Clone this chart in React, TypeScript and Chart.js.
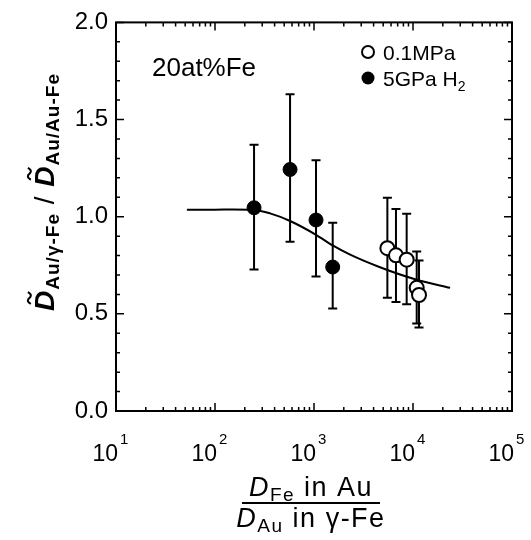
import React, { useEffect, useRef } from "react";
import { Chart, registerables } from "chart.js";
Chart.register(...registerables);

// ---- data ----
const curveX = [52, 100, 150, 248, 360, 573, 1048, 1545, 2290, 4640, 10700, 23700];
const curveY = [1.036, 1.036, 1.037, 1.035, 1.017, 0.978, 0.907, 0.852, 0.806, 0.74, 0.677, 0.634];

const h2X = [248, 573, 1048, 1545];
const h2Y = [1.046, 1.243, 0.983, 0.741];
const h2Hi = [1.37, 1.63, 1.29, 0.969];
const h2Lo = [0.728, 0.871, 0.692, 0.527];

const mpaX = [5510, 6730, 8630, 10900, 11500];
const mpaY = [0.838, 0.801, 0.779, 0.634, 0.597];
const mpaHi = [1.097, 1.039, 1.015, 0.821, 0.774];
const mpaLo = [0.583, 0.561, 0.549, 0.45, 0.43];

const xDecades = [10, 100, 1000, 10000, 100000];
const xExponents = ["1", "2", "3", "4", "5"];
const yMajorTicks = [0, 0.5, 1, 1.5, 2];
const legendLabels = ["0.1MPa", "5GPa H"];
const annotationText = "20at%Fe";

const FONT = '"Liberation Sans", Arial, Helvetica, sans-serif';

type Seg = { t: string; f: string; dy?: number; tilde?: number };

function segWidth(ctx: CanvasRenderingContext2D, segs: Seg[]) {
  let w = 0;
  for (const s of segs) {
    ctx.font = s.f;
    w += ctx.measureText(s.t).width;
  }
  return w;
}

function drawSegs(ctx: CanvasRenderingContext2D, segs: Seg[], x: number, y: number) {
  let cx = x;
  for (const s of segs) {
    ctx.font = s.f;
    const w = ctx.measureText(s.t).width;
    ctx.fillText(s.t, cx, y + (s.dy || 0));
    if (s.tilde) {
      const size = s.tilde;
      const tw = size * 0.42;
      const tx = cx + w * 0.5 - tw / 2 + size * 0.08;
      const ty = y - size * 0.72 - size * 0.16;
      ctx.save();
      ctx.lineWidth = 2;
      ctx.beginPath();
      ctx.moveTo(tx, ty + 1.5);
      ctx.bezierCurveTo(tx + tw * 0.2, ty - 3, tx + tw * 0.4, ty - 1.5, tx + tw * 0.5, ty);
      ctx.bezierCurveTo(tx + tw * 0.6, ty + 1.5, tx + tw * 0.8, ty + 3, tx + tw, ty - 1.5);
      ctx.stroke();
      ctx.restore();
    }
    cx += w;
  }
}

const customPlugin = {
  id: "customDecor",
  beforeDatasetsDraw(chart: any) {
    const { ctx, scales } = chart;
    const x = scales.x;
    const y = scales.y;
    ctx.save();
    ctx.strokeStyle = "#000";
    ctx.lineWidth = 2;
    const bars = (xs: number[], lo: number[], hi: number[]) => {
      xs.forEach((v, i) => {
        const px = x.getPixelForValue(v);
        const a = y.getPixelForValue(lo[i]);
        const b = y.getPixelForValue(hi[i]);
        ctx.beginPath();
        ctx.moveTo(px, a);
        ctx.lineTo(px, b);
        ctx.moveTo(px - 4.5, a);
        ctx.lineTo(px + 4.5, a);
        ctx.moveTo(px - 4.5, b);
        ctx.lineTo(px + 4.5, b);
        ctx.stroke();
      });
    };
    bars(h2X, h2Lo, h2Hi);
    bars(mpaX, mpaLo, mpaHi);
    ctx.restore();
  },
  afterDraw(chart: any) {
    const { ctx, chartArea, scales } = chart;
    const x = scales.x;
    const y = scales.y;
    const { left, right, top, bottom } = chartArea;
    ctx.save();
    ctx.strokeStyle = "#000";
    ctx.fillStyle = "#000";
    // frame
    ctx.lineWidth = 2;
    ctx.strokeRect(left, top, right - left, bottom - top);
    // x ticks (inward, top and bottom)
    ctx.lineWidth = 1.5;
    for (let d = 0; d < xDecades.length; d++) {
      for (let m = 1; m <= 9; m++) {
        if (d === xDecades.length - 1 && m > 1) break;
        const v = xDecades[d] * m;
        const px = x.getPixelForValue(v);
        const len = m === 1 ? 8 : 4;
        ctx.beginPath();
        ctx.moveTo(px, bottom);
        ctx.lineTo(px, bottom - len);
        ctx.moveTo(px, top);
        ctx.lineTo(px, top + len);
        ctx.stroke();
      }
    }
    // y ticks
    for (let i = 0; i <= 20; i++) {
      const v = i / 10;
      const py = y.getPixelForValue(v);
      const len = i % 5 === 0 ? 8 : 4;
      ctx.beginPath();
      ctx.moveTo(left, py);
      ctx.lineTo(left + len, py);
      ctx.moveTo(right, py);
      ctx.lineTo(right - len, py);
      ctx.stroke();
    }
    // x tick labels with superscripts
    ctx.textBaseline = "alphabetic";
    xDecades.forEach((v, i) => {
      const px = x.getPixelForValue(v);
      ctx.font = `23px ${FONT}`;
      ctx.textAlign = "right";
      ctx.fillText("10", px + 2, 461);
      ctx.font = `15px ${FONT}`;
      ctx.textAlign = "left";
      ctx.fillText(xExponents[i], px + 4, 444);
    });
    ctx.textAlign = "left";
    // x title (fraction)
    (ctx as any).letterSpacing = "1.5px";
    const cxTitle = 311;
    const topSegs: Seg[] = [
      { t: "D", f: `italic 27px ${FONT}` },
      { t: "Fe", f: `19px ${FONT}`, dy: 5 },
      { t: " in Au", f: `27px ${FONT}` },
    ];
    const botSegs: Seg[] = [
      { t: "D", f: `italic 27px ${FONT}` },
      { t: "Au", f: `19px ${FONT}`, dy: 5 },
      { t: " in γ-Fe", f: `27px ${FONT}` },
    ];
    drawSegs(ctx, topSegs, cxTitle - segWidth(ctx, topSegs) / 2, 496);
    drawSegs(ctx, botSegs, cxTitle - segWidth(ctx, botSegs) / 2, 527);
    ctx.lineWidth = 2;
    ctx.beginPath();
    ctx.moveTo(242, 503);
    ctx.lineTo(380, 503);
    ctx.stroke();
    // y title (rotated)
    (ctx as any).letterSpacing = "1px";
    const ySegs: Seg[] = [
      { t: "D", f: `italic bold 28px ${FONT}`, tilde: 28 },
      { t: "Au/γ-Fe", f: `bold 19px ${FONT}`, dy: 5 },
      { t: " / ", f: `28px ${FONT}` },
      { t: "D", f: `italic bold 28px ${FONT}`, tilde: 28 },
      { t: "Au/Au-Fe", f: `bold 19px ${FONT}`, dy: 5 },
    ];
    ctx.save();
    ctx.translate(54, 192);
    ctx.rotate(-Math.PI / 2);
    drawSegs(ctx, ySegs, -segWidth(ctx, ySegs) / 2, 0);
    ctx.restore();
    (ctx as any).letterSpacing = "0px";
    // annotation
    ctx.font = `26px ${FONT}`;
    ctx.fillText(annotationText, 152, 76);
    // legend
    ctx.lineWidth = 2;
    ctx.beginPath();
    ctx.arc(368, 52, 6, 0, Math.PI * 2);
    ctx.fillStyle = "#fff";
    ctx.fill();
    ctx.stroke();
    ctx.fillStyle = "#000";
    ctx.beginPath();
    ctx.arc(368, 78, 6.5, 0, Math.PI * 2);
    ctx.fill();
    ctx.font = `21px ${FONT}`;
    ctx.fillText(legendLabels[0], 383, 59.5);
    drawSegs(
      ctx,
      [
        { t: legendLabels[1], f: `21px ${FONT}` },
        { t: "2", f: `14px ${FONT}`, dy: 5 },
      ],
      383,
      85.5
    );
    ctx.restore();
  },
};

export default function App() {
  const ref = useRef<HTMLCanvasElement | null>(null);
  useEffect(() => {
    if (!ref.current) return;
    const chart = new Chart(ref.current, {
      type: "scatter",
      data: {
        datasets: [
          {
            label: "0.1MPa",
            data: mpaX.map((v, i) => ({ x: v, y: mpaY[i] })),
            backgroundColor: "#fff",
            borderColor: "#000",
            borderWidth: 2,
            pointRadius: 7,
          },
          {
            label: "5GPa H2",
            data: h2X.map((v, i) => ({ x: v, y: h2Y[i] })),
            backgroundColor: "#000",
            borderColor: "#000",
            borderWidth: 1,
            pointRadius: 7,
          },
          {
            type: "line",
            label: "fit",
            data: curveX.map((v, i) => ({ x: v, y: curveY[i] })),
            borderColor: "#000",
            borderWidth: 2,
            pointRadius: 0,
            fill: false,
            cubicInterpolationMode: "monotone",
          } as any,
        ],
      },
      options: {
        animation: false,
        responsive: false,
        maintainAspectRatio: false,
        layout: { padding: { top: 19, right: 19, left: 0, bottom: 0 } },
        plugins: { legend: { display: false }, tooltip: { enabled: false } },
        scales: {
          x: {
            type: "logarithmic",
            min: 10,
            max: 100000,
            grid: { display: false, drawTicks: false },
            border: { display: false },
            ticks: { display: false },
            afterFit: (s: any) => {
              s.height = 129;
            },
          },
          y: {
            type: "linear",
            min: 0,
            max: 2,
            grid: { display: false, drawTicks: false },
            border: { display: false },
            afterBuildTicks: (s: any) => {
              s.ticks = yMajorTicks.map((v) => ({ value: v }));
            },
            ticks: {
              color: "#000",
              padding: 8,
              font: { family: FONT, size: 24 },
              callback: (v: any) => Number(v).toFixed(1),
            },
            afterFit: (s: any) => {
              s.width = 116;
            },
          },
        },
      },
      plugins: [customPlugin],
    });
    return () => chart.destroy();
  }, []);
  return (
    <div style={{ position: "absolute", left: 0, top: 0, width: 531, height: 540, background: "#fff" }}>
      <canvas ref={ref} width={531} height={540} />
    </div>
  );
}
